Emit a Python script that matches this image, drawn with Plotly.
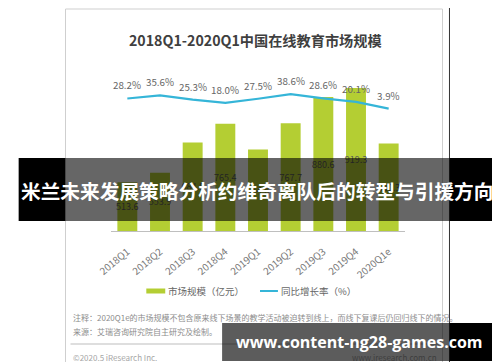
import plotly.graph_objects as go

# ---- data ----
quarters = ["2018Q1", "2018Q2", "2018Q3", "2018Q4", "2019Q1",
            "2019Q2", "2019Q3", "2019Q4", "2020Q1e"]
market_size = [513.6, 553.9, 684.8, 765.4, 654.8, 767.7, 880.6, 919.3, 680.3]
growth_rate = [28.2, 35.6, 25.3, 18.0, 27.5, 38.6, 28.6, 20.1, 3.9]
size_labels = [f"{v:.1f}" for v in market_size]
growth_labels = [f"{v:.1f}%" for v in growth_rate]

title_text = "2018Q1-2020Q1中国在线教育市场规模"
legend_bar = "市场规模（亿元）"
legend_line = "同比增长率（%）"
note1 = "注释：2020Q1e的市场规模不包含原来线下场景的教学活动被迫转到线上，而线下复课后仍回归线下的情况。"
note2 = "来源：艾瑞咨询研究院自主研究及绘制。"
copyright_text = "©2020.5 iResearch Inc."
site_text = "www.iresearch.com.cn"
banner_text = "米兰未来发展策略分析约维奇离队后的转型与引援方向"
watermark_text = "www.content-ng28-games.com"

# truncated value axis (the bars start at the axis floor)
Y_MIN, Y_MAX = 303, 1005.6
Y2_MIN, Y2_MAX = -287, 100.7

# ---- layout geometry ----
W, H = 500, 362
L, R, T, B = 102.6, 102.6, 60, 139
PW, PH = W - L - R, H - T - B


def px(x):
    return (x - L) / PW


def py(y):
    return (H - B - y) / PH


GREEN = "#b4ce33"
CYAN = "#35b5d8"
CJK = "Noto Sans CJK SC"

fig = go.Figure()
fig.add_trace(go.Bar(
    x=quarters, y=[v - Y_MIN for v in market_size], base=Y_MIN,
    marker_color=GREEN, marker_line_width=0,
    text=size_labels, textposition="inside", insidetextanchor="middle",
    textangle=0, textfont=dict(size=9, color="#5a5a5a", family=CJK),
    name=legend_bar, showlegend=False, hoverinfo="x+text",
))
fig.add_trace(go.Scatter(
    x=quarters, y=growth_rate, yaxis="y2", mode="lines",
    line=dict(color=CYAN, width=2.2), name=legend_line, showlegend=False,
))

annotations = []
for q, v, t in zip(quarters, growth_rate, growth_labels):
    annotations.append(dict(x=q, y=v, xref="x", yref="y2", text=t, showarrow=False,
                            yshift=13, font=dict(size=9.8, color="#666666", family=CJK)))


def ann(x, y, text, size, color, xanchor="center", bold=False, family=CJK):
    annotations.append(dict(
        x=px(x), y=py(y), xref="paper", yref="paper", text=f"<b>{text}</b>" if bold else text,
        showarrow=False, xanchor=xanchor, yanchor="middle",
        font=dict(size=size, color=color, family=family)))


ann(247, 32, title_text, 14.2, "#3f3f3f", bold=True)
ann(158, 283, legend_bar, 9.5, "#666666", xanchor="left")
ann(271, 283, legend_line, 9.5, "#666666", xanchor="left")
ann(62, 309, note1, 8, "#8c8c8c", xanchor="left")
ann(62, 323, note2, 8, "#8c8c8c", xanchor="left")
ann(62, 349, copyright_text, 8, "#a6a6a6", xanchor="left")
ann(431, 349, site_text, 8, "#3e3e3e", xanchor="right")
ann(249, 182, banner_text, 19.7, "#ffffff", bold=True)
ann(352, 334, watermark_text, 16, "#ffffff", bold=True, family="Open Sans")


def rect(x0, y0, x1, y1, fill, line=None):
    return dict(type="rect", xref="paper", yref="paper", x0=px(x0), x1=px(x1),
                y0=py(y1), y1=py(y0), fillcolor=fill,
                line=dict(width=1 if line else 0, color=line or "rgba(0,0,0,0)"),
                layer="above")


def hline(x0, x1, y, color, width=1):
    return dict(type="line", xref="paper", yref="paper", x0=px(x0), x1=px(x1),
                y0=py(y), y1=py(y), line=dict(color=color, width=width), layer="above")


shapes = [
    rect(57, 1, 435, 358, "rgba(0,0,0,0)", line="#cfcfcf"),
    dict(type="line", xref="paper", yref="paper", x0=px(442), x1=px(442),
         y0=py(0), y1=py(362), line=dict(color="#333333", width=1), layer="above"),
    rect(138, 280.5, 157, 285.5, GREEN),
    hline(252, 270, 283, CYAN, 2),
    hline(62, 431, 336, "#bdbdbd", 1),
    # overlay banner
    rect(10, 150, 57, 213, "#000000"),
    rect(57, 150, 442, 213, "rgba(0,0,0,0.6)"),
    rect(442, 150, 490, 213, "#000000"),
    # watermark box
    rect(214, 315, 442, 353, "rgba(0,0,0,0.64)"),
    rect(442, 315, 491, 353, "#000000"),
]

fig.update_layout(
    width=W, height=H, margin=dict(l=L, r=R, t=T, b=B, pad=0),
    paper_bgcolor="white", plot_bgcolor="white",
    bargap=0.39, showlegend=False,
    uniformtext=dict(minsize=9, mode="show"),
    xaxis=dict(type="category", showgrid=False, showline=True, linecolor="#bfbfbf",
               linewidth=1, ticks="outside", ticklen=10, tickcolor="rgba(0,0,0,0)",
               tickangle=-40, tickfont=dict(size=10, color="#777777", family=CJK),
               range=[-0.5, 8.5], zeroline=False),
    yaxis=dict(range=[Y_MIN, Y_MAX], visible=False, showgrid=False, zeroline=False),
    yaxis2=dict(range=[Y2_MIN, Y2_MAX], overlaying="y", visible=False, showgrid=False,
                zeroline=False),
    annotations=annotations, shapes=shapes,
)

fig.write_html("out.html")
